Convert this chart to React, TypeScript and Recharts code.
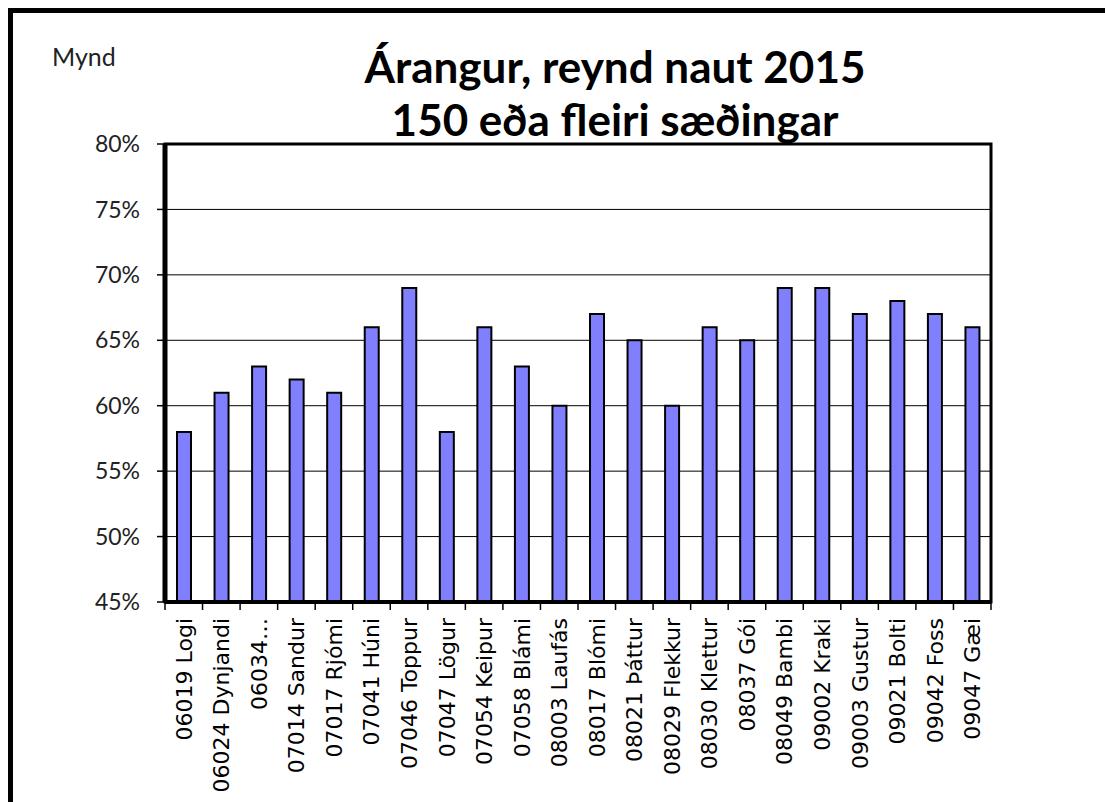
import React from "react";
import {
  BarChart,
  Bar,
  XAxis,
  YAxis,
  CartesianGrid,
  ReferenceArea,
} from "recharts";

const bulls = [
  "06019 Logi",
  "06024 Dynjandi",
  "06034…",
  "07014 Sandur",
  "07017 Rjómi",
  "07041 Húni",
  "07046 Toppur",
  "07047 Lögur",
  "07054 Keipur",
  "07058 Blámi",
  "08003  Laufás",
  "08017 Blómi",
  "08021 Þáttur",
  "08029 Flekkur",
  "08030 Klettur",
  "08037 Gói",
  "08049 Bambi",
  "09002 Kraki",
  "09003 Gustur",
  "09021 Bolti",
  "09042 Foss",
  "09047 Gæi",
];

const results = [58, 61, 63, 62, 61, 66, 69, 58, 66, 63, 60, 67, 65, 60, 66, 65, 69, 69, 67, 68, 67, 66];

const yTicks = [45, 50, 55, 60, 65, 70, 75, 80];

const data = bulls.map((name, i) => ({ name, value: results[i] }));

const W = 1105;
const H = 802;
const PLOT_LEFT = 165;
const PLOT_RIGHT = 991;
const PLOT_TOP = 144;
const PLOT_BOTTOM = 602;
const band = (PLOT_RIGHT - PLOT_LEFT) / bulls.length;

const XTick = ({ x, y, payload, index }: any) => {
  const left = x - band / 2;
  return (
    <g>
      <line x1={left} y1={y} x2={left} y2={y + 8} stroke="#000" strokeWidth={1.5} />
      {index === bulls.length - 1 && (
        <line x1={x + band / 2} y1={y} x2={x + band / 2} y2={y + 8} stroke="#000" strokeWidth={1.5} />
      )}
      <text
        transform={`translate(${x},${y + 16}) rotate(-90)`}
        textAnchor="end"
        dy="0.36em"
        fontFamily="DejaVu Sans"
        fontSize={22}
        fill="#000"
      >
        {payload.value}
      </text>
    </g>
  );
};

const App = () => {
  return (
    <div style={{ position: "absolute", left: 0, top: 0, width: W, height: H, background: "#fff" }}>
      <BarChart
        width={W}
        height={H}
        data={data}
        margin={{ top: PLOT_TOP, right: W - PLOT_RIGHT, left: PLOT_LEFT - 60, bottom: 0 }}
        barSize={14}
      >
        <CartesianGrid vertical={false} stroke="#000" strokeWidth={1} />
        <XAxis
          dataKey="name"
          height={H - PLOT_BOTTOM}
          interval={0}
          axisLine={{ stroke: "#000", strokeWidth: 4 }}
          tickLine={false}
          tickSize={0}
          tickMargin={0}
          tick={<XTick />}
        />
        <YAxis
          width={60}
          domain={[45, 80]}
          ticks={yTicks}
          allowDataOverflow
          tickFormatter={(v) => `${v}%`}
          axisLine={{ stroke: "#000", strokeWidth: 5 }}
          tickLine={{ stroke: "#000", strokeWidth: 1.5 }}
          tickSize={8}
          tickMargin={17}
          tick={{ fontSize: 23, fill: "#222", fontFamily: "Lato, 'Open Sans', sans-serif" }}
        />
        <ReferenceArea
          y1={45}
          y2={80}
          fill="none"
          fillOpacity={0}
          stroke="#000"
          strokeWidth={3}
          ifOverflow="visible"
        />
        <Bar
          dataKey="value"
          fill="#8080FF"
          stroke="#000"
          strokeWidth={2}
          isAnimationActive={false}
        />
      </BarChart>
      <svg
        width={W}
        height={H}
        style={{ position: "absolute", left: 0, top: 0, pointerEvents: "none" }}
      >
        <line x1={10.5} y1={10.5} x2={W} y2={10.5} stroke="#000" strokeWidth={5} />
        <line x1={10.5} y1={8} x2={10.5} y2={H} stroke="#000" strokeWidth={5} />
        <text x={52} y={66} fontFamily="Lato, 'Open Sans', sans-serif" fontSize={25} fill="#222">
          Mynd
        </text>
        <text
          x={615}
          y={83}
          textAnchor="middle"
          fontFamily="Lato, 'Open Sans', sans-serif"
          fontWeight="bold"
          fontSize={44}
          fill="#000"
        >
          Árangur, reynd naut 2015
        </text>
        <text
          x={615}
          y={136}
          textAnchor="middle"
          fontFamily="Lato, 'Open Sans', sans-serif"
          fontWeight="bold"
          fontSize={44}
          fill="#000"
        >
          150 eða fleiri sæðingar
        </text>
      </svg>
    </div>
  );
};

export default App;
